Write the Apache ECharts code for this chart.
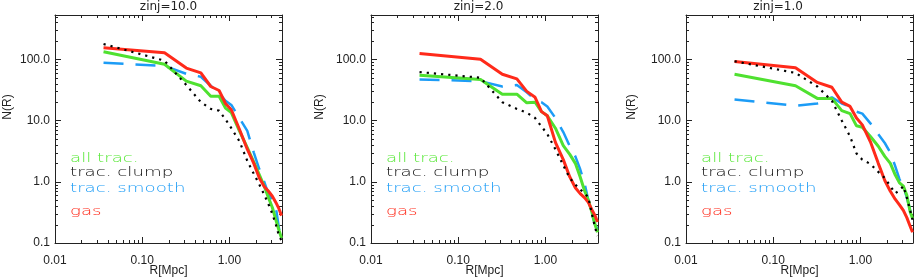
<!DOCTYPE html>
<html><head><meta charset="utf-8">
<script src="https://cdn.jsdelivr.net/npm/echarts@6/dist/echarts.min.js"></script>
<style>html,body{margin:0;padding:0;background:#fff}#c{width:914px;height:278px}</style>
</head><body><div id="c"></div>
<script>
// radial bins [Mpc]
const R = [0.036, 0.18, 0.32, 0.47, 0.61, 0.76, 0.9, 1.05, 1.3, 1.6, 1.9, 2.2, 2.5, 2.8, 3.1, 3.4, 3.7, 3.95];

const panelTitles = ['zinj=10.0', 'zinj=2.0', 'zinj=1.0'];
const seriesNames = ['all trac.', 'trac. clump', 'trac. smooth', 'gas'];
const xTitle = 'R[Mpc]', yTitle = 'N(R)';

// zinj = 10.0
const all10    = [133, 83, 44, 37, 25, 25, 16, 13.5, 6.8, 3.6, 2.1, 1.3, 0.85, 0.55, 0.38, 0.24, 0.16, 0.12];
const clump10  = [178, 95, 38, 20, 15.5, 14.5, 10.5, 7.5, 4.6, 2.2, 1.35, 0.9, 0.62, 0.43, 0.3, 0.2, 0.13, 0.11];
const smooth10 = [88, 78, 58, 52, 37, 28, 21, 18, 11, 6.8, 3.0, 1.6, 1.0, 0.63, 0.5, 0.38, 0.17, 0.13];
const gas10    = [155, 128, 72, 60, 36, 31, 19, 15, 7.2, 3.4, 2.0, 1.15, 0.84, 0.7, 0.58, 0.46, 0.36, 0.28];

// zinj = 2.0
const all2    = [55, 47, 27, 27, 19.5, 20, 14, 12, 7.5, 3.9, 2.8, 2.0, 1.2, 0.72, 0.5, 0.32, 0.2, 0.15];
const clump2  = [62, 50, 20, 15.5, 13.5, 11, 8, 6, 3.4, 1.85, 1.15, 0.9, 0.75, 0.65, 0.56, 0.3, 0.18, 0.13];
const smooth2 = [47, 44, 36, 38, 29, 22, 20, 17, 11, 6.5, 3.8, 2.6, 1.6, 0.95, 0.5, 0.3, 0.2, 0.17];
const gas2    = [125, 100, 57, 48, 30, 24, 14, 12, 4.4, 2.3, 1.2, 0.8, 0.64, 0.55, 0.46, 0.35, 0.28, 0.22];

// zinj = 1.0
const all1    = [57, 37, 23, 23, 14.5, 13, 8.2, 7.8, 5.5, 3.8, 2.6, 2.0, 1.3, 0.96, 0.85, 0.6, 0.33, 0.25];
const clump1  = [93, 60, 36, 21, 10, 5.5, 2.9, 2.3, 1.95, 1.45, 1.15, 0.85, 0.65, 0.72, 0.85, 0.55, 0.35, 0.24];
const smooth1 = [22, 17.5, 19, 24, 19, 17, 14, 13, 9, 6, 4.3, 3.0, 1.8, 1.1, 0.85, 0.55, 0.35, 0.26];
const gas1    = [92, 73, 42, 35, 20, 17, 11, 8.5, 4.5, 2.0, 1.05, 0.7, 0.52, 0.42, 0.34, 0.26, 0.19, 0.15];

const xMinorTicks = [0.02,0.03,0.04,0.05,0.06,0.07,0.08,0.09, 0.2,0.3,0.4,0.5,0.6,0.7,0.8,0.9, 2,3,4];
const yMinorTicks = [0.2,0.3,0.4,0.5,0.6,0.7,0.8,0.9, 2,3,4,5,6,7,8,9, 20,30,40,50,60,70,80,90, 200,300,400,500];

const panels = [
  [all10, clump10, smooth10, gas10],
  [all2, clump2, smooth2, gas2],
  [all1, clump1, smooth1, gas1]
];

const X_MIN = 0.01, X_MAX = 4, Y_MIN = 0.1, Y_MAX = 530;
const lefts = [55, 371, 686];
const titleCenters = [168.5, 478.5, 778];
const yTitleX = [8, 320, 632];
const GW = 227, GH = 228, GT = 15;

const colors = { all: '#4fe130', clump: '#000000', smooth: '#1c9cf6', gas: '#ff2a1a' };
const legendColors = ['#5ae83a', '#111111', '#1c9cf6', '#ff2a1a'];
const axisColor = '#222';
const labelFont = { fontFamily: 'Liberation Sans', fontSize: 12, color: '#222' };

const grids = [], xAxes = [], yAxes = [], series = [], graphics = [];

function xTickRender(params, api) {
  const cs = params.coordSys;
  const p = api.coord([api.value(0), api.value(1)]);
  const x = Math.round(p[0]) + 0.5;
  const st = { stroke: axisColor, lineWidth: 1 };
  return { type: 'group', children: [
    { type: 'line', shape: { x1: x, y1: cs.y + cs.height, x2: x, y2: cs.y + cs.height - 3 }, style: st },
    { type: 'line', shape: { x1: x, y1: cs.y, x2: x, y2: cs.y + 3 }, style: st }
  ]};
}
function yTickRender(params, api) {
  const cs = params.coordSys;
  const p = api.coord([api.value(0), api.value(1)]);
  const y = Math.round(p[1]) + 0.5;
  const st = { stroke: axisColor, lineWidth: 1 };
  return { type: 'group', children: [
    { type: 'line', shape: { x1: cs.x, y1: y, x2: cs.x + 3, y2: y }, style: st },
    { type: 'line', shape: { x1: cs.x + cs.width, y1: y, x2: cs.x + cs.width - 3, y2: y }, style: st }
  ]};
}

panels.forEach((p, i) => {
  grids.push({ left: lefts[i], top: GT, width: GW, height: GH, containLabel: false, outerBoundsMode: 'none' });
  const axLine = { show: true, lineStyle: { color: axisColor, width: 1 } };
  const tick = { show: true, inside: true, length: 6, lineStyle: { color: axisColor } };
  xAxes.push({
    type: 'log', logBase: 10, gridIndex: i, min: X_MIN, max: X_MAX, position: 'bottom',
    axisLine: axLine, axisTick: tick, splitLine: { show: false },
    axisLabel: Object.assign({ margin: 10, lineHeight: 16, formatter: v => Number(v).toFixed(2), showMaxLabel: false }, labelFont)
  });
  xAxes.push({
    type: 'log', logBase: 10, gridIndex: i, min: X_MIN, max: X_MAX, position: 'top',
    axisLine: axLine, axisTick: tick, splitLine: { show: false }, axisLabel: { show: false }
  });
  yAxes.push({
    type: 'log', logBase: 10, gridIndex: i, min: Y_MIN, max: Y_MAX, position: 'left',
    axisLine: axLine, axisTick: tick, splitLine: { show: false },
    axisLabel: Object.assign({ margin: 5, formatter: v => Number(v).toFixed(1), showMaxLabel: false }, labelFont)
  });
  yAxes.push({
    type: 'log', logBase: 10, gridIndex: i, min: Y_MIN, max: Y_MAX, position: 'right',
    axisLine: axLine, axisTick: tick, splitLine: { show: false }, axisLabel: { show: false }
  });

  const xi = 2 * i, yi = 2 * i;
  const mk = (arr) => R.map((r, k) => [r, arr[k]]);
  const [a, c, s, g] = p;
  series.push({ type: 'line', name: seriesNames[2], xAxisIndex: xi, yAxisIndex: yi, data: mk(s), symbol: 'none', silent: true,
    lineStyle: { color: colors.smooth, width: 2.5, type: [20, 12], cap: 'butt' } });
  series.push({ type: 'line', name: seriesNames[0], xAxisIndex: xi, yAxisIndex: yi, data: mk(a), symbol: 'none', silent: true,
    lineStyle: { color: colors.all, width: 3 } });
  series.push({ type: 'line', name: seriesNames[3], xAxisIndex: xi, yAxisIndex: yi, data: mk(g), symbol: 'none', silent: true,
    lineStyle: { color: colors.gas, width: 3 } });
  series.push({ type: 'line', name: seriesNames[1], xAxisIndex: xi, yAxisIndex: yi, data: mk(c), symbol: 'none', silent: true,
    lineStyle: { color: colors.clump, width: 2.2, type: [2.2, 5], cap: 'butt' } });
  series.push({ type: 'custom', xAxisIndex: xi, yAxisIndex: yi, data: xMinorTicks.map(v => [v, Y_MIN]),
    renderItem: xTickRender, silent: true, clip: false });
  series.push({ type: 'custom', xAxisIndex: xi, yAxisIndex: yi, data: yMinorTicks.map(v => [X_MIN, v]),
    renderItem: yTickRender, silent: true, clip: false });

  graphics.push({ type: 'text', x: titleCenters[i], y: 7, style: { text: panelTitles[i], fill: '#222', font: '12px "DejaVu Sans"', align: 'center', verticalAlign: 'middle' } });
  graphics.push({ type: 'text', x: lefts[i] + GW / 2, y: 271, style: { text: xTitle, fill: '#222', font: '12px "Liberation Sans"', align: 'center', verticalAlign: 'middle' } });
  graphics.push({ type: 'text', x: yTitleX[i], y: 107, rotation: Math.PI / 2, style: { text: yTitle, fill: '#222', font: '12px "Liberation Sans"', align: 'center', verticalAlign: 'middle' } });
  const ly = [159, 173, 189, 212];
  seriesNames.forEach((n, k) => {
    graphics.push({ type: 'text', x: lefts[i] + 15, y: ly[k], scaleX: 1.4, style: { text: n, fill: legendColors[k], font: '300 13px "DejaVu Sans"', verticalAlign: 'middle' } });
  });
});

const chart = echarts.init(document.getElementById('c'), null, { renderer: 'canvas' });
chart.setOption({
  animation: false,
  backgroundColor: '#fff',
  grid: grids, xAxis: xAxes, yAxis: yAxes, series, graphic: graphics
});
</script></body></html>
